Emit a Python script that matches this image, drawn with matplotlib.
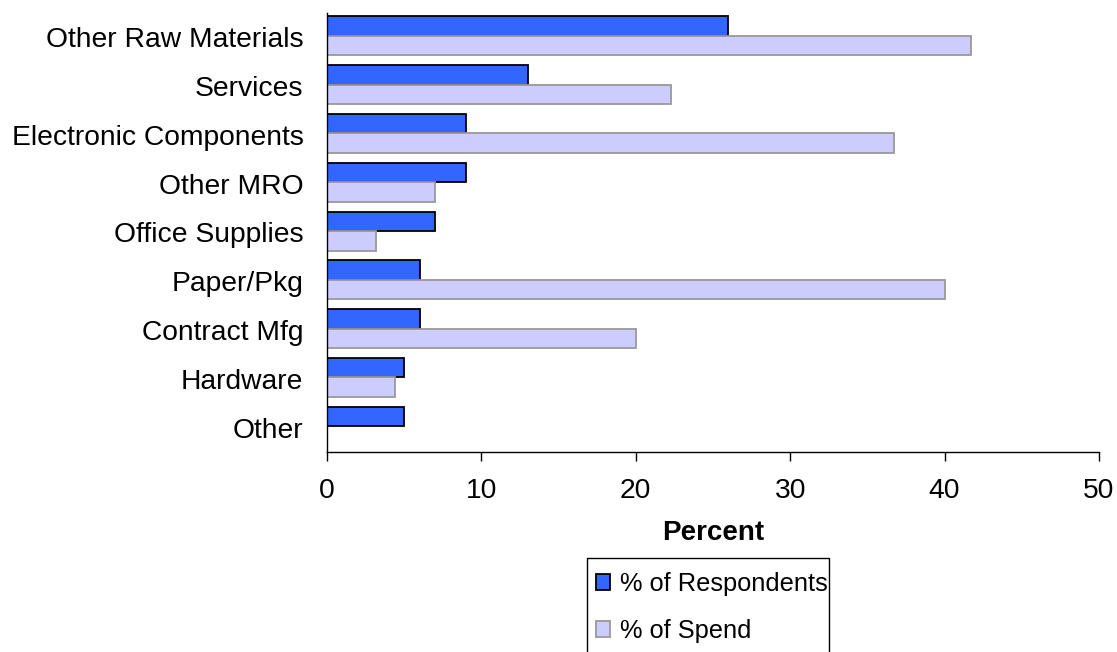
import numpy as np
import matplotlib
matplotlib.use("Agg")
import matplotlib.pyplot as plt
from matplotlib.patches import Rectangle

plt.rcParams['font.family'] = ['Liberation Sans', 'DejaVu Sans']

categories = ['Other Raw Materials', 'Services', 'Electronic Components', 'Other MRO',
              'Office Supplies', 'Paper/Pkg', 'Contract Mfg', 'Hardware', 'Other']
respondents = [26, 13, 9, 9, 7, 6, 6, 5, 5]
spend = [41.7, 22.3, 36.7, 7.0, 3.2, 40.0, 20.0, 4.4, 0]

y = np.arange(len(categories))
h = 0.4

fig = plt.figure(figsize=(11.17, 6.52), dpi=100)
ax = fig.add_axes([327/1117, 1 - 452/652, (1099 - 327)/1117, (452 - 13)/652])

ax.barh(y - h/2 - 0.03, respondents, height=h, color='#3366FF', edgecolor='black',
        linewidth=1.3, label='% of Respondents')
ax.barh(y + h/2 - 0.03, spend, height=h, color='#CCCCFF', edgecolor='#999999',
        linewidth=1.3, label='% of Spend')

ax.set_xlim(0, 50)
ax.set_ylim(len(categories) - 0.5, -0.5)
ax.set_xticks([0, 10, 20, 30, 40, 50])
ax.set_yticks(y)
ax.set_yticklabels(categories)

ax.tick_params(axis='x', labelsize=20.3, length=6.5, width=1, pad=12.5, direction='out')
ax.tick_params(axis='y', labelsize=20.3, length=0, pad=17)
ax.set_xlabel('Percent', fontsize=20, fontweight='bold', labelpad=11)

for s in ['top', 'right']:
    ax.spines[s].set_visible(False)
for s in ['left', 'bottom']:
    ax.spines[s].set_color('black')
    ax.spines[s].set_linewidth(1)

# legend contents without frame, frame drawn separately (runs off the bottom edge)
leg = fig.legend(loc='upper left', bbox_to_anchor=(596/1117, 1 - 572/652),
                 fontsize=18.3, frameon=False,
                 handlelength=0.55, handleheight=0.55, handletextpad=0.4,
                 labelspacing=0.9, borderpad=0, borderaxespad=0)
fig.add_artist(Rectangle((587/1117, -0.05), (829 - 587)/1117, 0.05 + 1 - 558/652,
                         transform=fig.transFigure, fill=False,
                         edgecolor='black', linewidth=1))

fig.savefig('out.png', dpi=100)
